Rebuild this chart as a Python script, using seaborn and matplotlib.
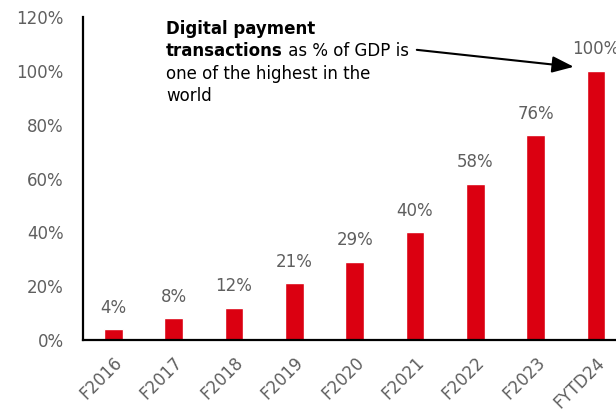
import matplotlib
matplotlib.use("Agg")
import matplotlib.pyplot as plt
import seaborn as sns
import pandas as pd

categories = ["F2016", "F2017", "F2018", "F2019", "F2020", "F2021", "F2022", "F2023", "FYTD24"]
values = [4, 8, 12, 21, 29, 40, 58, 76, 100]
yticks = [0, 20, 40, 60, 80, 100, 120]

sns.set_theme(style="white")
plt.rcParams['font.family'] = ['DejaVu Sans']

RED = "#DB0011"
GRAY = "#5f5f5f"
FS = 12

df = pd.DataFrame({"period": categories, "value": values})

fig = plt.figure(figsize=(6.16, 4.13), dpi=100)
ax = fig.add_axes([83/616, 73/413, 1 - 83/616, (340-17)/413])

sns.barplot(data=df, x="period", y="value", color=RED, width=0.31,
            saturation=1, ax=ax)
for c in ax.containers:
    ax.bar_label(c, labels=[f"{v}%" for v in values], padding=9,
                 fontsize=FS, color=GRAY)

ax.set_xlim(-0.5, 8.33)
ax.set_ylim(0, 120)
ax.set_yticks(yticks)
ax.set_yticklabels([f"{v}%" for v in yticks])
ax.set_xlabel("")
ax.set_ylabel("")
ax.tick_params(axis="y", length=0, pad=14, labelsize=FS, labelcolor=GRAY)
ax.tick_params(axis="x", length=0, pad=10, labelsize=FS, labelcolor=GRAY)
for lbl in ax.get_xticklabels():
    lbl.set_rotation(45)
    lbl.set_ha("right")
    lbl.set_rotation_mode("anchor")

for s in ["top", "right"]:
    ax.spines[s].set_visible(False)
for s in ["left", "bottom"]:
    ax.spines[s].set_color("black")
    ax.spines[s].set_linewidth(1.6)

# annotation text, line by line
x0 = 0.877
ax.text(x0, 113.8, "Digital payment", fontsize=FS, fontweight="bold",
        color="black", va="baseline", ha="left")
tb = ax.text(x0, 105.4, "transactions", fontsize=FS, fontweight="bold",
             color="black", va="baseline", ha="left")
ax.annotate(" as % of GDP is", xy=(1, 0), xycoords=tb, fontsize=FS,
            color="black", va="bottom", ha="left")
ax.text(x0, 97.0, "one of the highest in the", fontsize=FS,
        color="black", va="baseline", ha="left")
ax.text(x0, 88.7, "world", fontsize=FS, color="black",
        va="baseline", ha="left")

ax.annotate("", xy=(7.63, 101.5), xytext=(5.03, 107.8),
            arrowprops=dict(arrowstyle="-|>,head_length=1.1,head_width=0.42",
                            color="black", lw=1.5, shrinkA=0, shrinkB=0))

fig.savefig("out.png", dpi=100)
